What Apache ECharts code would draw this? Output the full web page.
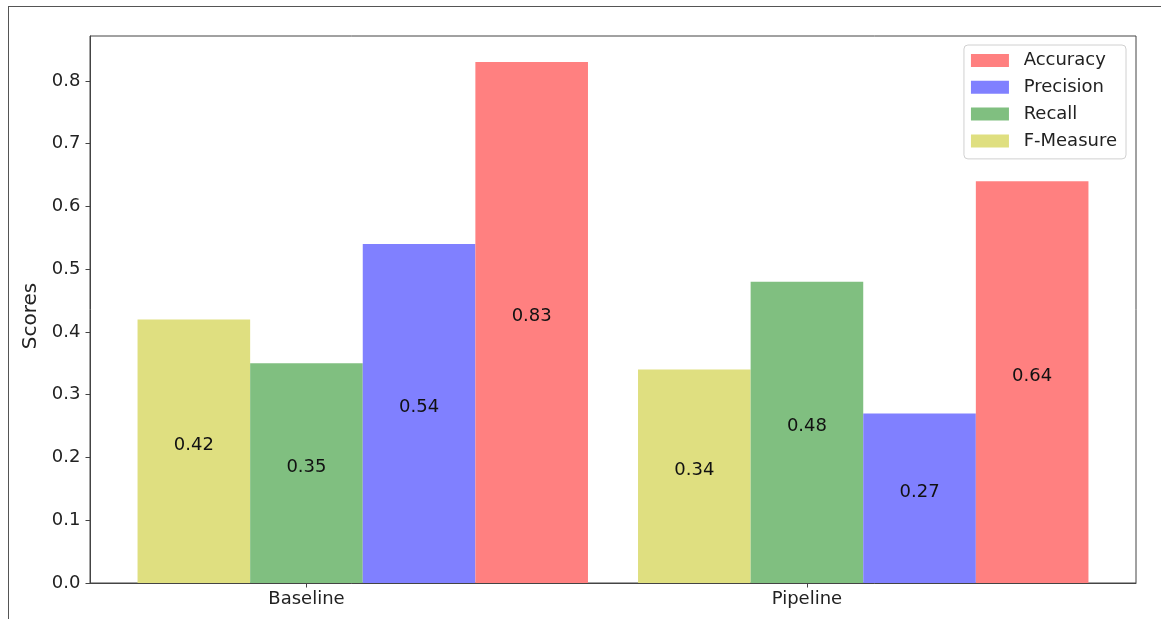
<!DOCTYPE html>
<html>
<head>
<meta charset="utf-8">
<script src="https://cdn.jsdelivr.net/npm/echarts@6/dist/echarts.min.js"></script>
<style>
  html, body { margin: 0; padding: 0; background: #fff; overflow: hidden; }
  #frame { position: absolute; left: 8px; top: 6px; width: 3000px; height: 3000px;
           border-left: 1.5px solid #555; border-top: 1.5px solid #555; }
  #chart { position: absolute; left: 0; top: 0; width: 1161px; height: 619px; }
</style>
</head>
<body>
<div id="frame"></div>
<div id="chart"></div>
<script>
// ---- data ----
const categories = ['Baseline', 'Pipeline'];
const fMeasure  = [0.42, 0.34];
const recall    = [0.35, 0.48];
const precision = [0.54, 0.27];
const accuracy  = [0.83, 0.64];
const legendOrder = ['Accuracy', 'Precision', 'Recall', 'F-Measure'];
const yTicks = [0, 0.1, 0.2, 0.3, 0.4, 0.5, 0.6, 0.7, 0.8];

// ---- layout helpers ----
const W = 1161, H = 619;
const gridL = 90, gridR = 25, gridT = 36, gridB = 36;
const barUnit = 0.225;           // bar width in x-data units
const xMin = -0.2075, xMax = 1.8825;
const yMax = 0.8715;
const barPx = (W - gridL - gridR) / (xMax - xMin) * barUnit;
const font = 'DejaVu Sans';
const fs = 18;

const plotted = [
  { name: 'F-Measure', values: fMeasure,  color: '#dfdf80', k: 0 },
  { name: 'Recall',    values: recall,    color: '#80bf80', k: 1 },
  { name: 'Precision', values: precision, color: '#8080ff', k: 2 },
  { name: 'Accuracy',  values: accuracy,  color: '#ff8080', k: 3 }
];
const tickPos = categories.map((c, i) => i + barUnit);

const chart = echarts.init(document.getElementById('chart'), null, { renderer: 'canvas' });
chart.setOption({
  backgroundColor: 'transparent',
  animation: false,
  textStyle: { fontFamily: font },
  grid: { left: gridL, right: gridR, top: gridT, bottom: gridB, show: true,
          borderColor: '#444', borderWidth: 1, backgroundColor: 'transparent' },
  legend: {
    data: legendOrder,
    orient: 'vertical',
    right: 35, top: 45,
    itemWidth: 38, itemHeight: 13, itemGap: 8.8,
    icon: 'rect',
    padding: [6.5, 9, 9, 7],
    borderColor: '#d0d0d0', borderWidth: 1, borderRadius: 4,
    backgroundColor: 'rgba(255,255,255,0.8)',
    textStyle: { fontFamily: font, fontSize: fs, color: '#222', lineHeight: 18,
                 padding: [0, 0, 0, 9.7] }
  },
  xAxis: {
    type: 'value', min: xMin, max: xMax,
    splitLine: { show: false },
    axisLine: { show: true, onZero: false, lineStyle: { color: '#444', width: 1 } },
    axisTick: { show: true, length: 4.5, inside: false, customValues: tickPos,
                lineStyle: { color: '#444' } },
    axisLabel: { customValues: tickPos, margin: 7, color: '#222', fontSize: fs,
                 fontFamily: font,
                 formatter: v => categories[Math.round(v - barUnit)] }
  },
  yAxis: {
    type: 'value', min: 0, max: yMax, interval: 0.1,
    name: 'Scores', nameLocation: 'middle', nameGap: 42,
    nameTextStyle: { fontFamily: font, fontSize: 20, color: '#222', padding: [0, 13, 0, 0] },
    splitLine: { show: false },
    axisLine: { show: true, onZero: false, lineStyle: { color: '#444', width: 1 } },
    axisTick: { show: true, length: 4.5, customValues: yTicks, lineStyle: { color: '#444' } },
    axisLabel: { customValues: yTicks, margin: 9.5, color: '#222', fontSize: fs,
                 fontFamily: font, formatter: v => v.toFixed(1) }
  },
  series: plotted.map(p => ({
    name: p.name,
    type: 'bar',
    barWidth: barPx,
    barGap: '-100%',
    itemStyle: { color: p.color },
    label: { show: true, position: 'inside', offset: [0, -6], color: '#111',
             fontSize: fs, fontFamily: font,
             formatter: d => d.value[1].toFixed(2) },
    data: p.values.map((v, i) => [i + p.k * barUnit, v])
  }))
});
</script>
</body>
</html>
